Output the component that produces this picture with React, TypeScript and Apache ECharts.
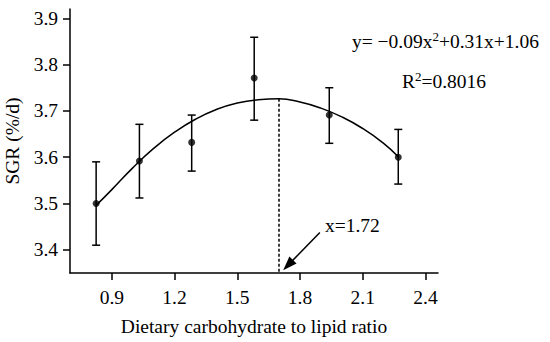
import React, { useEffect, useRef } from "react";
import * as echarts from "echarts";

// Treatment means (x = dietary carbohydrate to lipid ratio)
const xVals = [0.825, 1.032, 1.282, 1.581, 1.94, 2.27];
const means = [3.5, 3.592, 3.632, 3.771, 3.691, 3.6];
const lows = [3.41, 3.512, 3.57, 3.68, 3.63, 3.542];
const highs = [3.59, 3.671, 3.691, 3.859, 3.75, 3.66];

// Fitted quadratic curve
const fitX = [0.825, 0.9, 1.0, 1.1, 1.2, 1.3, 1.4, 1.5, 1.6, 1.7, 1.8, 1.9, 2.0, 2.1, 2.2, 2.27];
const fitY = [3.496, 3.53, 3.577, 3.619, 3.654, 3.682, 3.703, 3.717, 3.724, 3.726, 3.719, 3.706, 3.687, 3.662, 3.63, 3.601];

const xTicks = [0.9, 1.2, 1.5, 1.8, 2.1, 2.4];
const yTicks = [3.4, 3.5, 3.6, 3.7, 3.8, 3.9];

const optimumX = 1.7;
const optimumTop = 3.726;
const optimumLabel = "x=1.72";
const arrowFrom = [1.895, 3.4375];
const arrowTo = [1.743, 3.367];

const equation = "y= \u22120.09x{sup|2}+0.31x+1.06";
const rSquared = "R{sup|2}=0.8016";

const FONT = "Liberation Serif";
const FS = 19.5;

export default function App() {
  const ref = useRef<HTMLDivElement>(null);
  useEffect(() => {
    if (!ref.current) return;
    const chart = echarts.init(ref.current, null, { renderer: "svg" });
    const textStyle = { fontFamily: FONT, color: "#000", fontSize: FS };
    const rich = {
      base: { fontFamily: FONT, fontSize: FS, lineHeight: 22, fill: "#000" },
      sup: { fontFamily: FONT, fontSize: 13, lineHeight: 17, verticalAlign: "top", fill: "#000" },
    };
    chart.setOption({
      animation: false,
      backgroundColor: "#fff",
      grid: { left: 70, right: 112, top: 9, bottom: 69, outerBoundsMode: "none" },
      xAxis: {
        type: "value",
        min: 0.7,
        max: 2.46,
        name: "Dietary carbohydrate to lipid ratio",
        nameLocation: "middle",
        nameGap: 43,
        nameTextStyle: { ...textStyle },
        axisLine: { show: true, onZero: false, lineStyle: { color: "#000", width: 1.5 } },
        axisTick: { show: true, length: 7, lineStyle: { color: "#000", width: 1.5 }, customValues: xTicks },
        axisLabel: { ...textStyle, margin: 14, customValues: xTicks, formatter: (v: number) => v.toFixed(1) },
        splitLine: { show: false },
      },
      yAxis: {
        type: "value",
        min: 3.35,
        max: 3.92,
        name: "SGR (%/d)",
        nameLocation: "middle",
        nameGap: 45,
        nameTextStyle: { ...textStyle },
        axisLine: { show: true, onZero: false, lineStyle: { color: "#000", width: 1.5 } },
        axisTick: { show: true, length: 7, lineStyle: { color: "#000", width: 1.5 }, customValues: yTicks },
        axisLabel: { ...textStyle, margin: 12, customValues: yTicks, formatter: (v: number) => v.toFixed(1) },
        splitLine: { show: false },
      },
      series: [
        {
          type: "line",
          data: fitX.map((x, i) => [x, fitY[i]]),
          smooth: 0.5,
          showSymbol: false,
          lineStyle: { color: "#000", width: 1.5 },
          z: 2,
          markLine: {
            silent: true,
            symbol: "none",
            label: { show: false },
            lineStyle: { color: "#000", width: 1.5, type: [3, 2] },
            data: [[{ coord: [optimumX, optimumTop] }, { coord: [optimumX, 3.35] }]],
          },
        },
        {
          type: "custom",
          data: xVals.map((x, i) => [x, lows[i], highs[i]]),
          encode: { x: 0, y: [1, 2] },
          renderItem: (params: any, api: any) => {
            const x = api.value(0);
            const lo = api.coord([x, api.value(1)]);
            const hi = api.coord([x, api.value(2)]);
            const w = 4;
            const st = { stroke: "#000", lineWidth: 1.5 };
            return {
              type: "group",
              children: [
                { type: "line", shape: { x1: hi[0], y1: hi[1], x2: lo[0], y2: lo[1] }, style: st },
                { type: "line", shape: { x1: hi[0] - w, y1: hi[1], x2: hi[0] + w, y2: hi[1] }, style: st },
                { type: "line", shape: { x1: lo[0] - w, y1: lo[1], x2: lo[0] + w, y2: lo[1] }, style: st },
              ],
            };
          },
          z: 3,
        },
        {
          type: "scatter",
          data: xVals.map((x, i) => [x, means[i]]),
          symbolSize: 7,
          itemStyle: { color: "#000" },
          z: 4,
          markLine: {
            silent: true,
            symbol: ["none", "triangle"],
            symbolSize: [10, 14],
            label: { show: false },
            lineStyle: { color: "#000", width: 1.5, type: "solid" },
            data: [[{ coord: arrowFrom }, { coord: arrowTo }]],
          },
        },
      ],
      graphic: [
        {
          type: "text",
          left: 352,
          top: 30,
          style: { text: "{base|" + equation.replace("{sup|2}", "}{sup|2}{base|") + "}", rich },
        },
        {
          type: "text",
          left: 402,
          top: 70,
          style: { text: "{base|" + rSquared.replace("{sup|2}", "}{sup|2}{base|") + "}", rich },
        },
        {
          type: "text",
          left: 325,
          top: 215,
          style: { text: optimumLabel, fontFamily: FONT, fontSize: FS, fill: "#000" },
        },
      ],
    });
    return () => chart.dispose();
  }, []);
  return <div ref={ref} style={{ position: "fixed", left: 0, top: 0, width: 550, height: 342 }} />;
}
